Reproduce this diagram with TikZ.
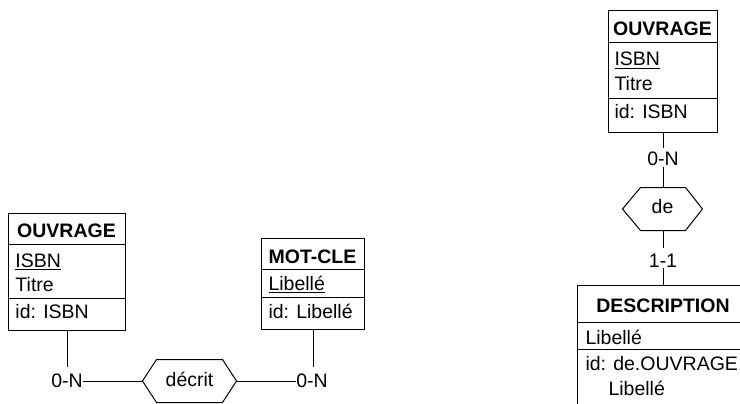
\documentclass[tikz,border=0pt]{standalone}
\usepackage{fontspec}
\setmainfont{Liberation Sans}
\newcommand{\ulkey}[1]{\setbox0=\hbox{#1}\rlap{\rule[-3.2pt]{\wd0}{1.5pt}}\box0}
\begin{document}
\begin{tikzpicture}[x=1pt,y=-1pt,line width=1pt,
  font=\fontsize{19.5}{23}\selectfont,
  entbox/.style={draw,rectangle,inner sep=0pt,anchor=north west},
  attr/.style={inner sep=0pt,anchor=base west},
  head/.style={inner sep=0pt,anchor=base,font=\fontsize{19.5}{23}\selectfont\bfseries},
  card/.style={inner sep=0pt,anchor=base},
  reltxt/.style={inner sep=0pt,minimum width=93pt,minimum height=42pt}]
\useasboundingbox (0,0) rectangle (740,404);
\clip (0,0) rectangle (740,404);

% ---------- left diagram ----------
\node[entbox,minimum width=117pt,minimum height=117pt] (o1) at (8,213) {};
\draw (o1.west |- 0,244) -- (o1.east |- 0,244);
\draw (o1.west |- 0,298) -- (o1.east |- 0,298);
\node[head] (o1h) at (66.5,237) {OUVRAGE};
\node[attr] (o1a) at (15,267) {\ulkey{ISBN}};
\node[attr] (o1b) at (15,291) {Titre};
\node[attr] (o1c) at (15,318) {id: ISBN};

\node[entbox,minimum width=103pt,minimum height=91pt] (m1) at (261,238) {};
\draw (m1.west |- 0,269) -- (m1.east |- 0,269);
\draw (m1.west |- 0,297) -- (m1.east |- 0,297);
\node[head] (m1h) at (312.5,263) {MOT-CLE};
\node[attr] (m1a) at (268,290) {\ulkey{Libellé}};
\node[attr] (m1c) at (268,318) {id: Libellé};

\node[card] (c1) at (67,387) {0-N};
\node[card] (c2) at (312,387) {0-N};
\node[reltxt] (r1) at (189.5,381) {};
\node[card] (r1t) at (189.5,386) {décrit};
\draw (r1.west) -- ([xshift=14pt]r1.north west) -- ([xshift=-14pt]r1.north east)
  -- (r1.east) -- ([xshift=-14pt]r1.south east) -- ([xshift=14pt]r1.south west) -- cycle;

\coordinate (c1t) at (67,367);
\coordinate (c2t) at (313,367);
\draw (o1.south -| c1t) -- (c1t);
\draw (m1.south -| c2t) -- (c2t);
\draw (c1.east |- r1.west) -- (r1.west);
\draw (r1.east) -- (c2.west |- r1.east);

% ---------- right diagram ----------
\node[entbox,minimum width=109pt,minimum height=122pt] (o2) at (608,10) {};
\draw (o2.west |- 0,43) -- (o2.east |- 0,43);
\draw (o2.west |- 0,99) -- (o2.east |- 0,99);
\node[head] (o2h) at (662.5,36) {OUVRAGE};
\node[attr] (o2a) at (614,66) {\ulkey{ISBN}};
\node[attr] (o2b) at (614,91) {Titre};
\node[attr] (o2c) at (614,119) {id: ISBN};

\node[card] (c3) at (663,165) {0-N};
\node[reltxt,minimum width=79pt] (r2) at (662.5,209) {};
\node[card] (r2t) at (662.5,213) {de};
\draw (r2.west) -- ([xshift=18pt]r2.north west) -- ([xshift=-17pt]r2.north east)
  -- (r2.east) -- ([xshift=-17pt]r2.south east) -- ([xshift=18pt]r2.south west) -- cycle;
\node[card] (c4) at (663,267) {1-1};

\node[entbox,minimum width=170pt,minimum height=140pt] (d1) at (577,285) {};
\draw (d1.west |- 0,322) -- (d1.east |- 0,322);
\draw (d1.west |- 0,349) -- (d1.east |- 0,349);
\node[head] (d1h) at (663,312) {DESCRIPTION};
\node[attr] (d1a) at (585,344) {Libellé};
\node[attr] (d1b) at (585,370) {id: de.OUVRAGE};
\node[attr] (d1c) at (608,395) {Libellé};

\coordinate (c3t) at (663,148);
\coordinate (c3b) at (663,167);
\coordinate (c4t) at (663,248);
\coordinate (c4b) at (663,268);
\draw (o2.south -| c3t) -- (c3t);
\draw (c3b) -- (r2.north -| c3b);
\draw (r2.south -| c4t) -- (c4t);
\draw (c4b) -- (d1.north -| c4b);
\end{tikzpicture}
\end{document}
